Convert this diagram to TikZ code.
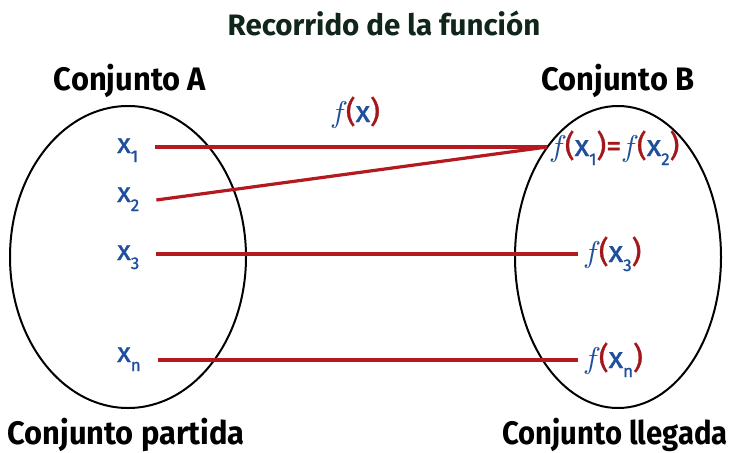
\documentclass[tikz,border=0pt]{standalone}
\usepackage{fontspec}
\setmainfont{Fira Sans}
\newfontfamily\condb[FakeStretch=0.95]{Fira Sans}
\newfontfamily\condc[FakeStretch=0.9]{Fira Sans}
\newfontfamily\elemf[FakeBold=1.2]{Fira Sans}
\newfontfamily\mathf{Latin Modern Math}
\definecolor{fblue}{HTML}{1F4E9C}
\definecolor{fred}{HTML}{A3161A}
\definecolor{lred}{HTML}{B3191E}
\definecolor{ttl}{HTML}{10261A}
\newcommand\xsub[1]{x\raisebox{-9pt}{\fontsize{17}{17}\selectfont #1}}
\newcommand\fof[1]{{\mathf\symbol{"1D453}}\kern1pt\textcolor{fred}{(}#1\textcolor{fred}{)}}
\tikzset{
  ell/.style={draw=black, line width=2pt},
  redline/.style={draw=lred, line width=3.2pt},
  elem/.style={text=fblue, font=\elemf\fontsize{28}{28}\selectfont, inner sep=0pt, anchor=base west},
  felem/.style={elem, font=\elemf\fontsize{30}{30}\selectfont},
  lbl/.style={font=\condb\bfseries\fontsize{32.5}{32.5}\selectfont, text=black, inner sep=0pt, anchor=base},
  ttlstyle/.style={font=\bfseries\fontsize{29.5}{29.5}\selectfont, text=ttl, inner sep=0pt, anchor=base}
}
\begin{document}
\begin{tikzpicture}[x=1pt,y=-1pt]
\useasboundingbox (0,0) rectangle (730,452);
\fill[white] (0,0) rectangle (730,452);
\node[ttlstyle] (title) at (384,36) {Recorrido de la función};
\node[lbl] (cA) at (130,90) {Conjunto A};
\node[lbl] (cB) at (618,90) {Conjunto B};
\node[lbl] (cP) at (126,444) {Conjunto partida};
\node[lbl, font=\condc\bfseries\fontsize{32.5}{32.5}\selectfont] (cL) at (615,444) {Conjunto llegada};
\draw[ell] (128,257) ellipse [x radius=118, y radius=151];
\draw[ell] (618,257) ellipse [x radius=103, y radius=151];
\node[elem] (x1) at (117,153) {\xsub{1}};
\node[elem] (x2) at (117,202) {\xsub{2}};
\node[elem] (x3) at (117,260) {\xsub{3}};
\node[elem] (xn) at (117,362) {\xsub{n}};
\node[felem] (fx) at (330,122) {\fof{x}};
\node[felem] (f12) at (549,156) {\fof{\xsub{1}}\textcolor{fred}{=}\fof{\xsub{2}}};
\node[felem] (f3) at (583,262) {\fof{\xsub{3}}};
\node[felem] (fn) at (583,368) {\fof{\xsub{n}}};
\draw[redline] ([xshift=17pt,yshift=6pt]x1.base east) -- ([xshift=-2pt,yshift=9pt]f12.base west);
\draw[redline] ([xshift=17pt,yshift=2pt]x2.base east) -- ([xshift=-2pt,yshift=9pt]f12.base west);
\draw[redline] ([xshift=17pt,yshift=6pt]x3.base east) -- ([xshift=-5pt,yshift=8pt]f3.base west);
\draw[redline] ([xshift=17pt,yshift=2pt]xn.base east) -- ([xshift=-5pt,yshift=8pt]fn.base west);
\end{tikzpicture}
\end{document}
